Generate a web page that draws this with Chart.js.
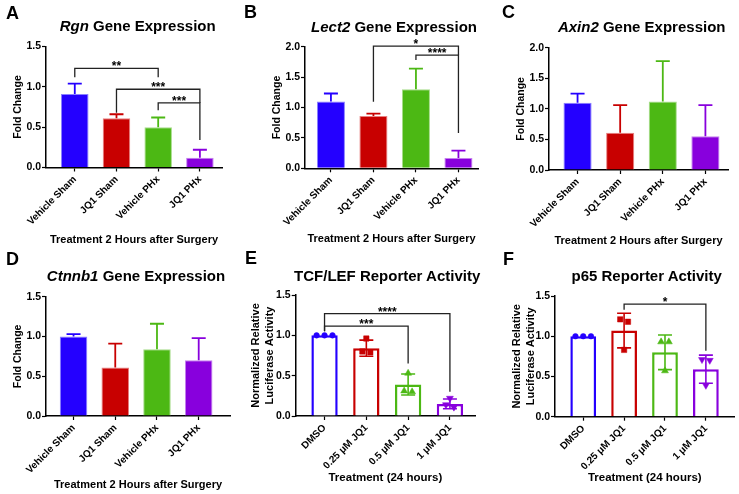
<!DOCTYPE html>
<html>
<head>
<meta charset="utf-8">
<script src="https://cdn.jsdelivr.net/npm/chart.js@4.4.1/dist/chart.umd.min.js"></script>
<style>
  body { margin: 0; background: #fff; }
  #fig { position: relative; width: 739px; height: 494px; overflow: hidden; font-family: 'Liberation Sans', Arial, sans-serif; }
  #fig canvas { position: absolute; }
  .lbl { position: absolute; font-weight: bold; line-height: 1; white-space: nowrap; color: #000; }
</style>
</head>
<body>
<div id="fig"></div>
<script>
Chart.defaults.font.family = "'Liberation Sans', Arial, sans-serif";
Chart.defaults.font.weight = 'bold';
Chart.defaults.color = '#000';

const geneGroups = ['Vehicle Sham', 'JQ1 Sham', 'Vehicle PHx', 'JQ1 PHx'];
const doseGroups = ['DMSO', '0.25 μM JQ1', '0.5 μM JQ1', '1 μM JQ1'];
const groupColors = ['#2400ff', '#c80000', '#4cb814', '#8800dd'];
const groupEdges = ['#8a80ff', '#e88080', '#a6dc8a', '#c480ee'];

// A-D: mean fold change and SD (drawn upward only)
const rgnMean = [0.91, 0.61, 0.50, 0.12];
const rgnSD = [0.13, 0.05, 0.12, 0.10];
const lect2Mean = [1.10, 0.86, 1.30, 0.17];
const lect2SD = [0.13, 0.04, 0.34, 0.12];
const axin2Mean = [1.10, 0.61, 1.12, 0.55];
const axin2SD = [0.15, 0.45, 0.66, 0.51];
const ctnnb1Mean = [1.00, 0.61, 0.84, 0.70];
const ctnnb1SD = [0.03, 0.30, 0.32, 0.28];

// E-F: reporter assays, mean, SD and the three replicates
const tcfMean = [1.00, 0.84, 0.39, 0.15];
const tcfSD = [0, 0.10, 0.13, 0.06];
const tcfReps = [[1.00, 1.00, 1.00], [0.96, 0.80, 0.79], [0.53, 0.30, 0.31], [0.22, 0.14, 0.11]];
const p65Mean = [1.00, 1.07, 0.80, 0.59];
const p65SD = [0, 0.215, 0.215, 0.175];
const p65Reps = [[1.00, 1.00, 1.00], [1.21, 1.18, 0.83], [0.93, 0.93, 0.57], [0.71, 0.70, 0.39]];

// significance brackets: from group, to group, bracket height, left leg end, right leg end, label
const rgnSig = [[0, 2, 1.23, 1.12, 1.12, '**'], [1, 3, 0.97, 0.68, 0.80, '***'], [2, 3, 0.80, 0.71, 0.34, '***']];
const lect2Sig = [[1, 3, 2.01, 1.095, 1.86, '*'], [2, 3, 1.86, 1.78, 0.58, '****']];
const tcfSig = [[0, 3, 1.27, 1.05, 0.30, '****'], [0, 2, 1.115, 1.05, 0.65, '***']];
const p65Sig = [[1, 3, 1.40, 1.33, 0.82, '*']];

const geneAxis = 'Treatment 2 Hours after Surgery';
const doseAxis = 'Treatment (24 hours)';

const panels = [
  { letter: 'A', title: '<i>Rgn</i> Gene Expression', groups: geneGroups, mean: rgnMean, sd: rgnSD, sig: rgnSig, yMax: 1.5,
    box: { x: 0, y: 0, w: 245, h: 247 }, area: { l: 46, t: 46.5, r: 222, b: 167.5 }, xr: [-0.69, 3.53],
    letterAt: [6, 6], titleAt: [137.7, 20], yTitleX: 18.3, xTitleY: 239.5 },
  { letter: 'B', title: '<i>Lect2</i> Gene Expression', groups: geneGroups, mean: lect2Mean, sd: lect2SD, sig: lect2Sig, yMax: 2,
    box: { x: 245, y: 0, w: 245, h: 247 }, area: { l: 305, t: 46.7, r: 478, b: 168.3 }, xr: [-0.61, 3.46],
    letterAt: [244, 5], titleAt: [394, 20.7], yTitleX: 276.7, xTitleY: 239.3 },
  { letter: 'C', title: '<i>Axin2</i> Gene Expression', groups: geneGroups, mean: axin2Mean, sd: axin2SD, sig: [], yMax: 2,
    box: { x: 490, y: 0, w: 249, h: 247 }, area: { l: 549, t: 47.7, r: 728, b: 170 }, xr: [-0.67, 3.53],
    letterAt: [502, 5], titleAt: [641.7, 20.7], yTitleX: 521, xTitleY: 240.7 },
  { letter: 'D', title: '<i>Ctnnb1</i> Gene Expression', groups: geneGroups, mean: ctnnb1Mean, sd: ctnnb1SD, sig: [], yMax: 1.5,
    box: { x: 0, y: 247, w: 245, h: 247 }, area: { l: 46, t: 296.7, r: 230, b: 416 }, xr: [-0.66, 3.75],
    letterAt: [6, 252], titleAt: [136, 270], yTitleX: 18.3, xTitleY: 485 },
  { letter: 'E', title: 'TCF/LEF Reporter Activity', groups: doseGroups, mean: tcfMean, sd: tcfSD, reps: tcfReps, sig: tcfSig, yMax: 1.5,
    box: { x: 245, y: 247, w: 245, h: 247 }, area: { l: 295.7, t: 295, r: 475, b: 416 }, xr: [-0.69, 3.6],
    letterAt: [245, 251], titleAt: [387.2, 270], yTitleX: 256, xTitleY: 478.3 },
  { letter: 'F', title: 'p65 Reporter Activity', groups: doseGroups, mean: p65Mean, sd: p65SD, reps: p65Reps, sig: p65Sig, yMax: 1.5,
    box: { x: 490, y: 247, w: 249, h: 247 }, area: { l: 555, t: 296, r: 738, b: 416.7 }, xr: [-0.69, 3.7],
    letterAt: [503, 252], titleAt: [646.7, 270], yTitleX: 516.7, xTitleY: 478.3 }
];

const shapes = ['circle', 'rect', 'triangle', 'triangle'];
const shapeSize = [2.8, 3.8, 4, 4];
const fig = document.getElementById('fig');

function addText(html, x, capTop, size, centred) {
  const d = document.createElement('div');
  d.className = 'lbl';
  d.innerHTML = html;
  d.style.fontSize = size + 'px';
  d.style.top = (capTop - size * 0.13) + 'px';
  d.style.left = x + 'px';
  if (centred) d.style.transform = 'translateX(-50%)';
  fig.appendChild(d);
}

// replicates that sit close together get pushed sideways, like a scatter dot plot
function spread(vals) {
  const sorted = vals.slice().sort((a, b) => b - a);
  const clusters = [];
  sorted.forEach(v => {
    const c = clusters[clusters.length - 1];
    if (c && Math.abs(c[c.length - 1] - v) < 0.06) c.push(v); else clusters.push([v]);
  });
  const out = [];
  clusters.forEach(c => c.forEach((v, k) => out.push({ v, off: (k - (c.length - 1) / 2) * 0.19 })));
  return out;
}

function overlay(p) {
  return {
    id: 'overlay' + p.letter,
    afterDatasetsDraw(chart) {
      const ctx = chart.ctx, xs = chart.scales.x, ys = chart.scales.y;
      const both = !!p.reps;
      ctx.save();
      // error bars
      p.mean.forEach((m, i) => {
        if (!p.sd[i]) return;
        const x = xs.getPixelForValue(i);
        const top = ys.getPixelForValue(m + p.sd[i]);
        const bot = ys.getPixelForValue(both ? m - p.sd[i] : m);
        ctx.strokeStyle = groupColors[i];
        ctx.lineWidth = both ? 1.6 : 1.8;
        ctx.beginPath();
        ctx.moveTo(x, bot); ctx.lineTo(x, top);
        ctx.moveTo(x - 7, top); ctx.lineTo(x + 7, top);
        if (both) { ctx.moveTo(x - 7, bot); ctx.lineTo(x + 7, bot); }
        ctx.stroke();
      });
      // significance brackets
      ctx.strokeStyle = '#222';
      ctx.lineWidth = 1.3;
      ctx.fillStyle = '#000';
      ctx.font = "bold 12px 'Liberation Sans', Arial, sans-serif";
      ctx.textAlign = 'center';
      ctx.textBaseline = 'alphabetic';
      p.sig.forEach(b => {
        const x1 = xs.getPixelForValue(b[0]), x2 = xs.getPixelForValue(b[1]);
        const yb = ys.getPixelForValue(b[2]);
        ctx.beginPath();
        ctx.moveTo(x1, ys.getPixelForValue(b[3]));
        ctx.lineTo(x1, yb); ctx.lineTo(x2, yb);
        ctx.lineTo(x2, ys.getPixelForValue(b[4]));
        ctx.stroke();
        ctx.fillText(b[5], (x1 + x2) / 2, yb + 2);
      });
      ctx.restore();
    }
  };
}

function makePanel(p) {
  const cv = document.createElement('canvas');
  cv.width = p.box.w; cv.height = p.box.h;
  cv.style.left = p.box.x + 'px'; cv.style.top = p.box.y + 'px';
  fig.appendChild(cv);
  addText(p.letter, p.letterAt[0], p.letterAt[1], 18, false);
  addText(p.title, p.titleAt[0], p.titleAt[1], 15, true);

  const hollow = !!p.reps;
  const datasets = [{
    type: 'bar',
    data: p.mean.map((v, i) => ({ x: i, y: v })),
    backgroundColor: hollow ? '#fff' : groupColors,
    borderColor: hollow ? groupColors : groupEdges,
    borderWidth: hollow ? 2.5 : 1,
    barPercentage: hollow ? 0.63 : 0.66,
    categoryPercentage: 1,
    order: 2
  }];
  if (hollow) {
    p.reps.forEach((r, i) => datasets.push({
      type: 'scatter',
      data: spread(r).map(o => ({ x: i + o.off, y: o.v })),
      pointStyle: shapes[i],
      pointRotation: i === 3 ? 180 : 0,
      pointRadius: shapeSize[i],
      pointBackgroundColor: groupColors[i],
      pointBorderColor: groupColors[i],
      pointBorderWidth: 0.5,
      order: 1
    }));
  }

  const yTitle = hollow ? ['Normalized Relative', 'Luciferase Activity'] : 'Fold Change';
  const yFont = hollow ? { size: 11, lineHeight: 14 / 11 } : { size: 10.5, lineHeight: 1.2 };
  const yLH = hollow ? 14 : 12.6;
  const xFontSize = hollow ? 11.5 : 11;
  const xLH = xFontSize * 1.2;
  const a = p.area, bx = p.box;

  new Chart(cv, {
    type: 'bar',
    data: { datasets },
    options: {
      responsive: false,
      animation: false,
      layout: { padding: { left: 0, top: a.t - bx.y, right: bx.x + bx.w - a.r, bottom: 0 } },
      plugins: { legend: { display: false }, tooltip: { enabled: false } },
      scales: {
        x: {
          type: 'linear', min: p.xr[0], max: p.xr[1], offset: false,
          afterBuildTicks: s => { s.ticks = p.groups.map((g, i) => ({ value: i })); },
          ticks: {
            autoSkip: false, minRotation: 45, maxRotation: 45, padding: 2,
            font: { size: 10 },
            callback: v => p.groups[v] ?? ''
          },
          grid: { offset: false, drawOnChartArea: false, tickLength: 4, tickColor: '#000', tickWidth: 1.2 },
          border: { color: '#000', width: 1.5 },
          title: { display: true, text: p.groups === geneGroups ? geneAxis : doseAxis,
            font: { size: xFontSize, lineHeight: 1.2 },
            padding: { top: 0, bottom: bx.y + bx.h - p.xTitleY - xLH / 2 } },
          afterFit: s => { s.height = bx.y + bx.h - a.b; }
        },
        y: {
          min: 0, max: p.yMax,
          ticks: { stepSize: 0.5, padding: 1, font: { size: 10.5 }, callback: v => v.toFixed(1) },
          grid: { drawOnChartArea: false, tickLength: 4, tickColor: '#000', tickWidth: 1.2 },
          border: { color: '#000', width: 1.5 },
          title: { display: true, text: yTitle, font: yFont,
            padding: { top: p.yTitleX - bx.x - yLH / 2, bottom: 0 } },
          afterFit: s => { s.width = a.l - bx.x; }
        }
      }
    },
    plugins: [overlay(p)]
  });
}

panels.forEach(makePanel);
</script>
</body>
</html>
